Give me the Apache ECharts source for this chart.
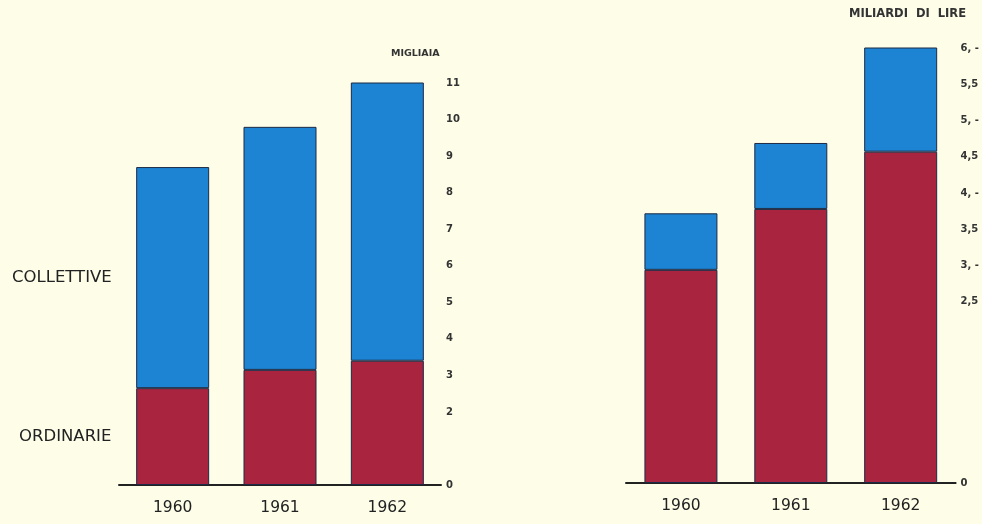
<!DOCTYPE html>
<html>
<head>
<meta charset="utf-8">
<script src="https://cdn.jsdelivr.net/npm/echarts@6/dist/echarts.min.js"></script>
<style>
  html, body { margin: 0; padding: 0; background: #fdfde8; }
  #chart { width: 982px; height: 524px; }
</style>
</head>
<body>
<div id="chart"></div>
<script>
// anni
const years = ['1960', '1961', '1962'];

// numero di cooperative (migliaia)
const ordinarieCount = [2.65, 3.15, 3.4];
const collettiveCount = [6.05, 6.65, 7.7];

// importi (miliardi di lire)
const ordinarieAmount = [2.94, 3.78, 4.57];
const collettiveAmount = [0.78, 0.91, 1.44];

// etichette degli assi
const leftTicks = [0, 2, 3, 4, 5, 6, 7, 8, 9, 10, 11];
const rightTicks = [0, 2.5, 3, 3.5, 4, 4.5, 5, 5.5, 6];
const rightTickText = ['0', '2,5', '3, -', '3,5', '4, -', '4,5', '5, -', '5,5', '6, -'];

const RED = '#a9243f';
const BLUE = '#1c84d2';
const EDGE = '#1d2a45';
const FONT = '"DejaVu Sans", sans-serif';

const chart = echarts.init(document.getElementById('chart'));

const leftLabel = (v) => (leftTicks.includes(v) ? String(v) : '');
const rightLabel = (v) => {
  const i = rightTicks.indexOf(v);
  return i >= 0 ? rightTickText[i] : '';
};

const xAxisBase = {
  type: 'category',
  data: years,
  axisTick: { show: false },
  axisLine: { lineStyle: { color: '#222', width: 2 } },
  axisLabel: { color: '#222', fontSize: 15.5, fontFamily: FONT, margin: 15 },
};

const yAxisBase = {
  type: 'value',
  position: 'right',
  splitLine: { show: false },
  axisLine: { show: false },
  axisTick: { show: false },
};

const tickLabel = { color: '#333', fontSize: 10, fontWeight: 'bold', fontFamily: FONT };

const barStyle = (color) => ({
  color,
  borderColor: EDGE,
  borderWidth: 1,
});

const options = {
  backgroundColor: '#fdfde8',
  animation: false,
  grid: [
    { left: 119, width: 322, top: 83, bottom: 39 },
    { left: 626, width: 330, top: 48, bottom: 41 },
  ],
  xAxis: [
    { ...xAxisBase, gridIndex: 0 },
    { ...xAxisBase, gridIndex: 1 },
  ],
  yAxis: [
    {
      ...yAxisBase,
      gridIndex: 0,
      min: 0,
      max: 11,
      interval: 1,
      axisLabel: { ...tickLabel, margin: 5, formatter: leftLabel },
    },
    {
      ...yAxisBase,
      gridIndex: 1,
      min: 0,
      max: 6,
      interval: 0.5,
      axisLabel: { ...tickLabel, margin: 5, formatter: rightLabel },
    },
  ],
  series: [
    {
      name: 'ORDINARIE', type: 'bar', stack: 'n', xAxisIndex: 0, yAxisIndex: 0,
      barWidth: 73, itemStyle: barStyle(RED), data: ordinarieCount,
    },
    {
      name: 'COLLETTIVE', type: 'bar', stack: 'n', xAxisIndex: 0, yAxisIndex: 0,
      barWidth: 73, itemStyle: barStyle(BLUE), data: collettiveCount,
    },
    {
      name: 'ORDINARIE', type: 'bar', stack: 'a', xAxisIndex: 1, yAxisIndex: 1,
      barWidth: 73, itemStyle: barStyle(RED), data: ordinarieAmount,
    },
    {
      name: 'COLLETTIVE', type: 'bar', stack: 'a', xAxisIndex: 1, yAxisIndex: 1,
      barWidth: 73, itemStyle: barStyle(BLUE), data: collettiveAmount,
    },
  ],
  graphic: [
    {
      type: 'text', left: 12, top: 269,
      style: { text: 'COLLETTIVE', fontSize: 16.5, fontFamily: FONT, fill: '#222' },
    },
    {
      type: 'text', left: 19, top: 428,
      style: { text: 'ORDINARIE', fontSize: 16.5, fontFamily: FONT, fill: '#222' },
    },
    {
      type: 'text', left: 391, top: 49,
      style: { text: 'MIGLIAIA', fontSize: 9.5, fontWeight: 'bold', fontFamily: FONT, fill: '#333' },
    },
    {
      type: 'text', left: 849, top: 8,
      style: { text: 'MILIARDI  DI  LIRE', fontSize: 11.5, fontWeight: 'bold', fontFamily: FONT, fill: '#333' },
    },
  ],
};

chart.setOption(options);
window.addEventListener('resize', () => {
  chart.resize();
});
</script>
</body>
</html>
